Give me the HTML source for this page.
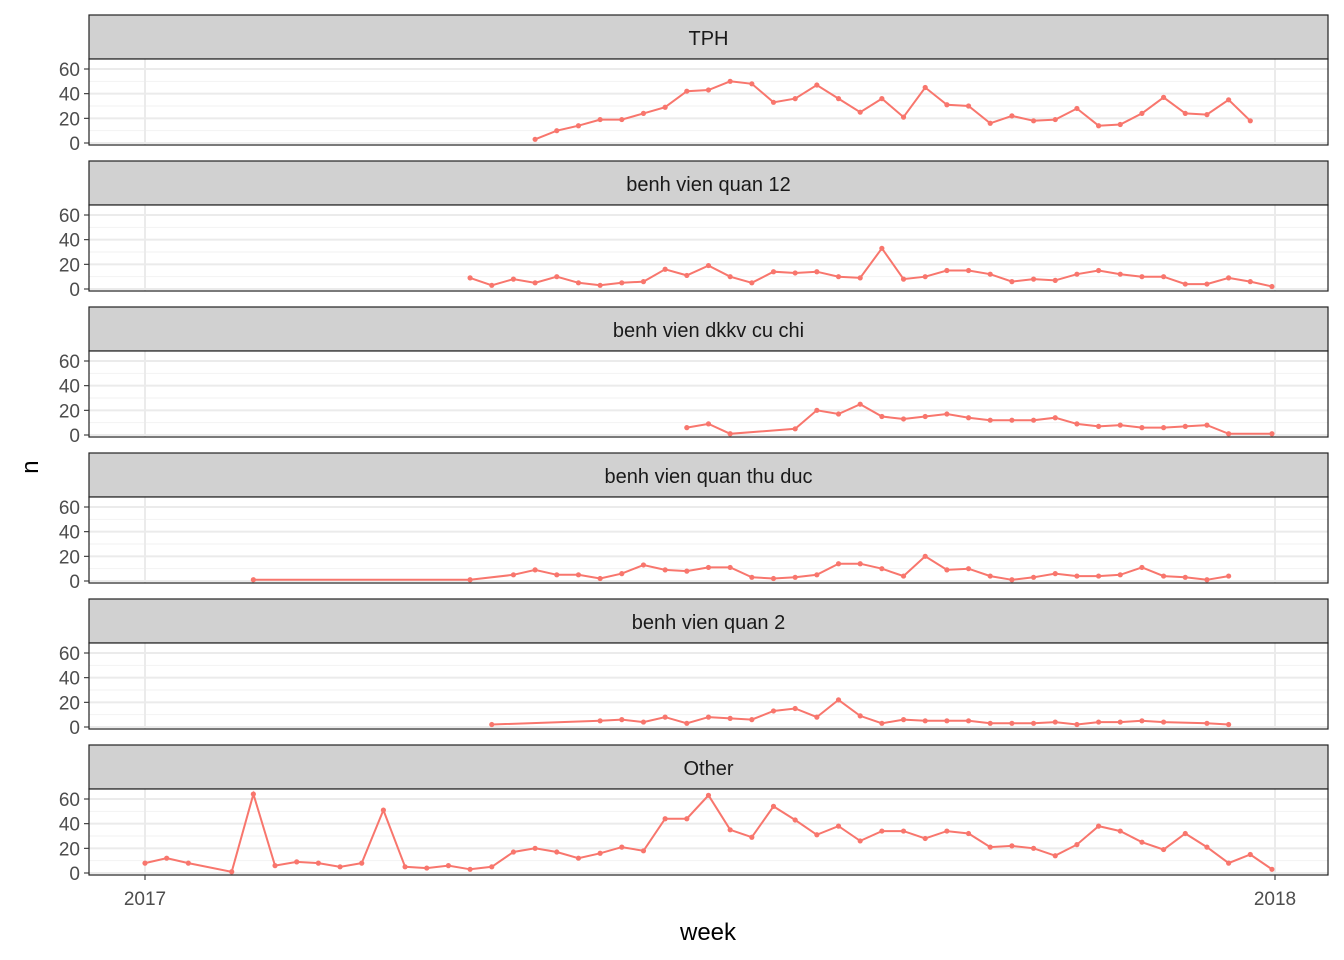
<!DOCTYPE html>
<html><head><meta charset="utf-8"><style>
html,body{margin:0;padding:0;background:#fff;}
svg{display:block;font-family:"Liberation Sans",Arial,sans-serif;}
</style></head><body>
<svg id="chart" width="1344" height="960"></svg>
<script>
const facets = ["TPH","benh vien quan 12","benh vien dkkv cu chi","benh vien quan thu duc","benh vien quan 2","Other"];
const N = null;
function arr(start, vals){const a=new Array(53).fill(null);vals.forEach((v,i)=>{a[start+i]=v;});return a;}
const sTPH = arr(18,[3,10,14,19,19,24,29,42,43,50,48,33,36,47,36,25,36,21,45,31,30,16,22,18,19,28,14,15,24,37,24,23,35,18]);
const sQ12 = arr(15,[9,3,8,5,10,5,3,5,6,16,11,19,10,5,14,13,14,10,9,33,8,10,15,15,12,6,8,7,12,15,12,10,10,4,4,9,6,2]);
const sCuChi = arr(25,[6,9,1,N,N,5,20,17,25,15,13,15,17,14,12,12,12,14,9,7,8,6,6,7,8,1,N,1]);
const sThuDuc = arr(5,[1,N,N,N,N,N,N,N,N,N,1,N,5,9,5,5,2,6,13,9,8,11,11,3,2,3,5,14,14,10,4,20,9,10,4,1,3,6,4,4,5,11,4,3,1,4]);
const sQ2 = arr(16,[2,N,N,N,N,5,6,4,8,3,8,7,6,13,15,8,22,9,3,6,5,5,5,3,3,3,4,2,4,4,5,4,N,3,2]);
const sOther = arr(0,[8,12,8,N,1,64,6,9,8,5,8,51,5,4,6,3,5,17,20,17,12,16,21,18,44,44,63,35,29,54,43,31,38,26,34,34,28,34,32,21,22,20,14,23,38,34,25,19,32,21,8,15,3]);
const series = [sTPH,sQ12,sCuChi,sThuDuc,sQ2,sOther];
const yTicks = [0,20,40,60];
const xTickLabels = ["2017","2018"];

const NS="http://www.w3.org/2000/svg";
const svg=document.getElementById('chart');
function el(tag,attrs,parent){const e=document.createElementNS(NS,tag);for(const k in attrs)e.setAttribute(k,attrs[k]);(parent||svg).appendChild(e);return e;}
const PX0=89, PX1=1328;
const x = w => 145 + (1275-145)*w/52.14;
const xYear = yi => 145 + 1130*yi;
function yScale(i){const base=143+146*i;return v=>base-v*(74/60);}

facets.forEach((name,i)=>{
  const st=15+146*i, pt=59+146*i, pb=145+146*i;
  const y=yScale(i);
  const g=el('g',{});
  
  
  const strip=el('rect',{x:PX0,y:st,width:PX1-PX0,height:pt-st,fill:'#d1d1d1',stroke:'#222','stroke-width':1.2},g);
  
  
  const stx=el('text',{x:(PX0+PX1)/2,y:st+30,'text-anchor':'middle','font-size':20,fill:'#1a1a1a'},g);
  stx.textContent=name;
  
  
  el('rect',{x:PX0,y:pt,width:PX1-PX0,height:pb-pt,fill:'#fff'},g);
  [10,30,50].forEach(v=>el('line',{x1:PX0,x2:PX1,y1:y(v),y2:y(v),stroke:'#f2f2f2','stroke-width':1},g));
  yTicks.forEach(v=>el('line',{x1:PX0,x2:PX1,y1:y(v),y2:y(v),stroke:'#ebebeb','stroke-width':2},g));
  [0,1].forEach(k=>el('line',{x1:xYear(k),x2:xYear(k),y1:pt,y2:pb,stroke:'#ebebeb','stroke-width':2},g));
  const vals=series[i];let d='';
  vals.forEach((v,k)=>{if(v===null)return;d+=(d?'L':'M')+x(k).toFixed(1)+','+y(v).toFixed(1);});
  const line=el('path',{d:d,fill:'none',stroke:'#f8766d','stroke-width':2},g);
  
  
  vals.forEach((v,k)=>{if(v===null)return;
    const c=el('circle',{cx:x(k),cy:y(v),r:2.6,fill:'#f8766d'},g);
    
    
  });
  el('rect',{x:PX0,y:pt,width:PX1-PX0,height:pb-pt,fill:'none',stroke:'#222','stroke-width':1.2},g);
  yTicks.forEach(v=>{
    el('line',{x1:PX0-5,x2:PX0,y1:y(v),y2:y(v),stroke:'#333','stroke-width':1.1},g);
    const t=el('text',{x:PX0-9,y:y(v)+7,'text-anchor':'end','font-size':19,fill:'#4d4d4d'},g);
    t.textContent=v;
    
    
  });
});
xTickLabels.forEach((lab,k)=>{
  el('line',{x1:xYear(k),x2:xYear(k),y1:875,y2:880,stroke:'#333','stroke-width':1.1});
  const t=el('text',{x:xYear(k),y:905,'text-anchor':'middle','font-size':19,fill:'#4d4d4d'});
  t.textContent=lab;
  
  
});
const xt=el('text',{x:708,y:940,'text-anchor':'middle','font-size':24,fill:'#000'});
xt.textContent='week';


const yt=el('text',{x:38,y:467,'text-anchor':'middle','font-size':24,fill:'#000',transform:'rotate(-90 38 467)'});
yt.textContent='n';


</script>
</body></html>
